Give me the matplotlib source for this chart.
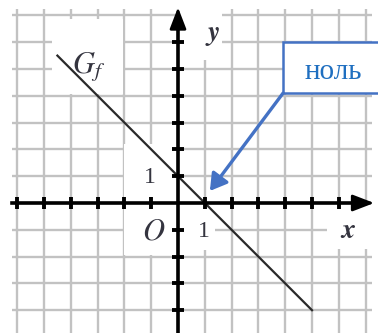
import matplotlib
matplotlib.use('Agg')
import matplotlib.pyplot as plt
from matplotlib.patches import Rectangle, FancyArrowPatch

plt.rcParams['mathtext.fontset'] = 'stix'

# сетка (в клетках)
grid_x = list(range(-6, 8))
grid_y = list(range(-4, 8))
# деления на осях
ticks_x = [-6, -5, -4, -3, -2, -1, 1, 2, 3, 4, 5, 6]
ticks_y = [-4, -3, -2, -1, 1, 2, 3, 4, 5, 6]
# график G_f: y = 1 - x
line_x = [-4.5, 5.0]
line_y = [5.5, -4.0]
zero_point = (1.19, 0.45)
callout_text = 'ноль'

unit = 26.8  # пикселей на клетку
ox, oy = 178, 203  # начало координат в пикселях
W, H = 378, 333

fig = plt.figure(figsize=(W / 100, H / 100), dpi=100)
ax = fig.add_axes([0, 0, 1, 1])
ax.set_xlim(-ox / unit, (W - ox) / unit)
ax.set_ylim(-(H - oy) / unit, oy / unit)
ax.axis('off')

grid_col = '#c2c2c2'
ax.vlines(grid_x, -5, 7.25, color=grid_col, lw=1.7, zorder=1)
ax.hlines(grid_y, -6.2, 7.25, color=grid_col, lw=1.7, zorder=1)

# белые подложки под подписями
for (x0, y0, w, h) in [(-4.7, 4.05, 2.65, 2.8), (-2.03, -1.95, 1.95, 4.15),
                       (0.05, 5.33, 1.6, 2.3), (0.07, -1.75, 1.3, 1.65),
                       (5.56, -1.7, 2.0, 1.6)]:
    ax.add_patch(Rectangle((x0, y0), w, h, fc='white', ec='none', zorder=2))

# оси
ax.plot([-6.2, 6.9], [0, 0], color='black', lw=2.6, zorder=4)
ax.plot([0, 0], [-5, 6.9], color='black', lw=2.6, zorder=4)
head = '-|>,head_length=1.3,head_width=0.5'
ax.annotate('', xy=(7.32, 0), xytext=(6.6, 0),
            arrowprops=dict(arrowstyle=head, color='black', lw=2, shrinkA=0, shrinkB=0), zorder=5)
ax.annotate('', xy=(0, 7.3), xytext=(0, 6.6),
            arrowprops=dict(arrowstyle=head, color='black', lw=2, shrinkA=0, shrinkB=0), zorder=5)
ax.plot(ticks_x, [0] * len(ticks_x), ls='', marker='|', ms=9, mew=2.8, color='black', zorder=4)
ax.plot([0] * len(ticks_y), ticks_y, ls='', marker='_', ms=9, mew=2.8, color='black', zorder=4)

# прямая
ax.plot(line_x, line_y, color='#2a2a2a', lw=1.6, zorder=3)

lab = '#34343f'
ax.text(-3.35, 5.1, r'$G_f$', fontsize=22, color=lab, ha='center', va='center', zorder=6)
ax.text(1.3, 6.3, r'$\boldsymbol{y}$', fontsize=20, color=lab, ha='center', va='center', zorder=6)
ax.text(6.35, -1.0, r'$\boldsymbol{x}$', fontsize=20, color=lab, ha='center', va='center', zorder=6)
ax.text(-0.9, -1.05, r'$O$', fontsize=22, color=lab, ha='center', va='center', zorder=6)
ax.text(-1.05, 0.95, '1', family='Liberation Serif', fontsize=17, color=lab, ha='center', va='center', zorder=6)
ax.text(0.95, -1.05, '1', family='Liberation Serif', fontsize=17, color=lab, ha='center', va='center', zorder=6)

# выноска
blue = '#4472C4'
ax.add_patch(Rectangle((3.92, 4.1), 4.0, 1.9, fc='white', ec=blue, lw=1.8, zorder=7))
ax.text(5.8, 4.88, callout_text, family='Liberation Serif', fontsize=21, color='#1f6fc0',
        ha='center', va='center', zorder=8)
ax.add_patch(FancyArrowPatch((3.92, 4.1), zero_point, arrowstyle='-|>,head_length=10,head_width=6',
                             color=blue, lw=2.4, zorder=8, shrinkA=0, shrinkB=0))

fig.savefig('out.png', dpi=100)
